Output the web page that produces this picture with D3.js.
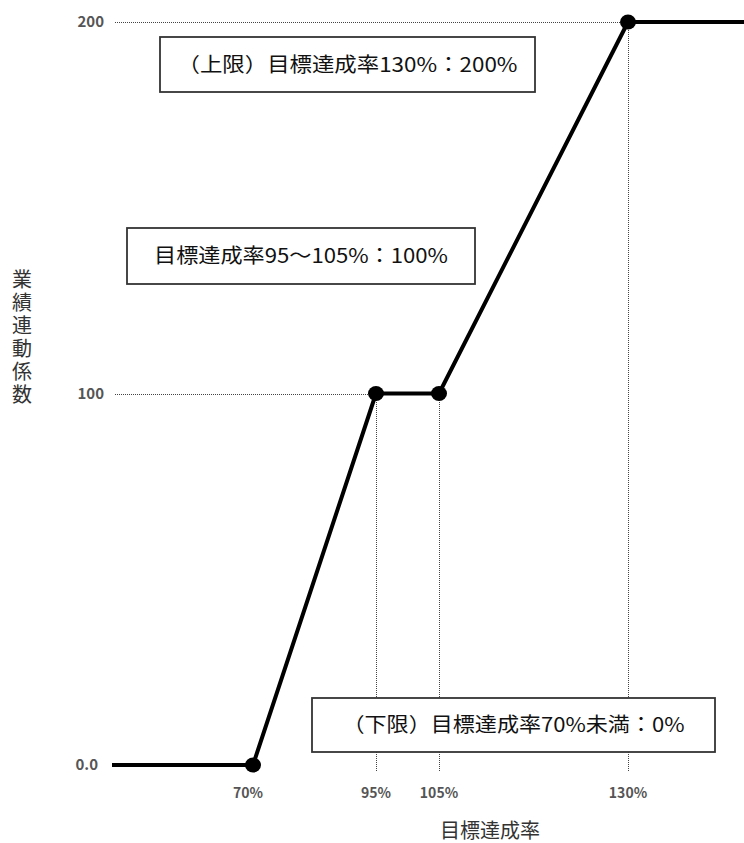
<!DOCTYPE html>
<html lang="ja">
<head>
<meta charset="UTF-8">
<title>業績連動係数</title>
<script src="https://d3js.org/d3.v7.min.js"></script>
<style>
  body { margin: 0; background: #fff; }
  text { font-family: "Noto Sans CJK JP", "Noto Sans", sans-serif; }
</style>
</head>
<body>
<div id="chart"></div>
<script>
var width = 744, height = 843;

// 目標達成率 (%) と 業績連動係数
var rates = [60, 70, 95, 105, 130, 140];
var coefs = [0, 0, 100, 100, 200, 200];
var markRates = [70, 95, 105, 130];
var markCoefs = [0, 100, 100, 200];
var xTickLabels = ["70%", "95%", "105%", "130%"];
var yTicks = [0, 100, 200];
var yTickLabels = ["0.0", "100", "200"];
var notes = ["（上限）目標達成率130%：200%", "目標達成率95〜105%：100%", "（下限）目標達成率70%未満：0%"];

// schematic x axis: breakpoints are not evenly spaced in the original
var x = d3.scaleLinear()
    .domain(rates)
    .range([112, 253, 376, 439, 628, 744]);
var y = d3.scaleLinear().domain([0, 200]).range([765, 22]);

var svg = d3.select("#chart").append("svg")
    .attr("width", width)
    .attr("height", height);

var guide = function(sel) {
  sel.attr("stroke", "#444").attr("stroke-width", 1).attr("stroke-dasharray", "1,1")
     .attr("shape-rendering", "crispEdges");
};

// dotted guides: horizontal ones at 100 and 200, vertical ones from each point down
svg.selectAll("line.hguide")
    .data([1, 3])
    .enter().append("line")
    .attr("class", "hguide")
    .attr("x1", 115)
    .attr("x2", function(i) { return x(markRates[i]); })
    .attr("y1", function(i) { return y(markCoefs[i]) + 0.5; })
    .attr("y2", function(i) { return y(markCoefs[i]) + 0.5; })
    .call(guide);

svg.selectAll("line.vguide")
    .data([1, 2, 3])
    .enter().append("line")
    .attr("class", "vguide")
    .attr("x1", function(i) { return x(markRates[i]) + 0.5; })
    .attr("x2", function(i) { return x(markRates[i]) + 0.5; })
    .attr("y1", function(i) { return y(markCoefs[i]); })
    .attr("y2", y(0) + 6)
    .call(guide);

// y tick labels
svg.selectAll("text.ytick")
    .data(yTicks)
    .enter().append("text")
    .attr("class", "ytick")
    .attr("x", function(d) { return d === 0 ? 98 : 104; })
    .attr("y", function(d) { return y(d) + 5; })
    .attr("text-anchor", "end")
    .attr("font-size", 15)
    .attr("font-weight", "bold")
    .attr("fill", "#555")
    .text(function(d, i) { return yTickLabels[i]; });

// x tick labels
svg.selectAll("text.xtick")
    .data(markRates)
    .enter().append("text")
    .attr("class", "xtick")
    .attr("x", function(d) { return x(d) - (d === 70 ? 5 : 0); })
    .attr("y", 798)
    .attr("text-anchor", "middle")
    .attr("font-size", 14)
    .attr("font-weight", "bold")
    .attr("fill", "#555")
    .text(function(d, i) { return xTickLabels[i]; });

// annotation boxes
var boxes = [
  {x0: 160, y0: 37, x1: 535, y1: 92, w: 340},
  {x0: 127, y0: 228, x1: 475, y1: 284, w: 294},
  {x0: 312, y0: 698, x1: 715, y1: 752, w: 342}
];
var note = svg.selectAll("g.note")
    .data(notes)
    .enter().append("g")
    .attr("class", "note");
note.append("rect")
    .attr("x", function(d, i) { return boxes[i].x0; })
    .attr("y", function(d, i) { return boxes[i].y0; })
    .attr("width", function(d, i) { return boxes[i].x1 - boxes[i].x0; })
    .attr("height", function(d, i) { return boxes[i].y1 - boxes[i].y0; })
    .attr("fill", "#fff").attr("stroke", "#333").attr("stroke-width", 1.8);
note.append("text")
    .attr("x", function(d, i) { return (boxes[i].x0 + boxes[i].x1) / 2; })
    .attr("y", function(d, i) { return (boxes[i].y0 + boxes[i].y1) / 2 + 7; })
    .attr("text-anchor", "middle")
    .attr("font-size", 20)
    .attr("textLength", function(d, i) { return boxes[i].w; })
    .attr("lengthAdjust", "spacingAndGlyphs")
    .attr("fill", "#111")
    .text(function(d) { return d; });

// main line
var line = d3.line()
    .x(function(d) { return x(d); })
    .y(function(d, i) { return y(coefs[i]); });
svg.append("path")
    .datum(rates)
    .attr("d", line)
    .attr("fill", "none")
    .attr("stroke", "#000")
    .attr("stroke-width", 4)
    .attr("stroke-linejoin", "round");

svg.selectAll("ellipse.pt")
    .data(markRates)
    .enter().append("ellipse")
    .attr("class", "pt")
    .attr("cx", function(d) { return x(d); })
    .attr("cy", function(d, i) { return y(markCoefs[i]); })
    .attr("rx", 8).attr("ry", 7.5)
    .attr("fill", "#000");

// axis titles
svg.append("text")
    .attr("x", 22)
    .attr("y", 269)
    .attr("font-size", 20)
    .attr("fill", "#333")
    .style("writing-mode", "vertical-rl")
    .style("letter-spacing", "3px")
    .text("業績連動係数");

svg.append("text")
    .attr("x", 490)
    .attr("y", 838)
    .attr("text-anchor", "middle")
    .attr("font-size", 20)
    .attr("fill", "#333")
    .text("目標達成率");
</script>
</body>
</html>
